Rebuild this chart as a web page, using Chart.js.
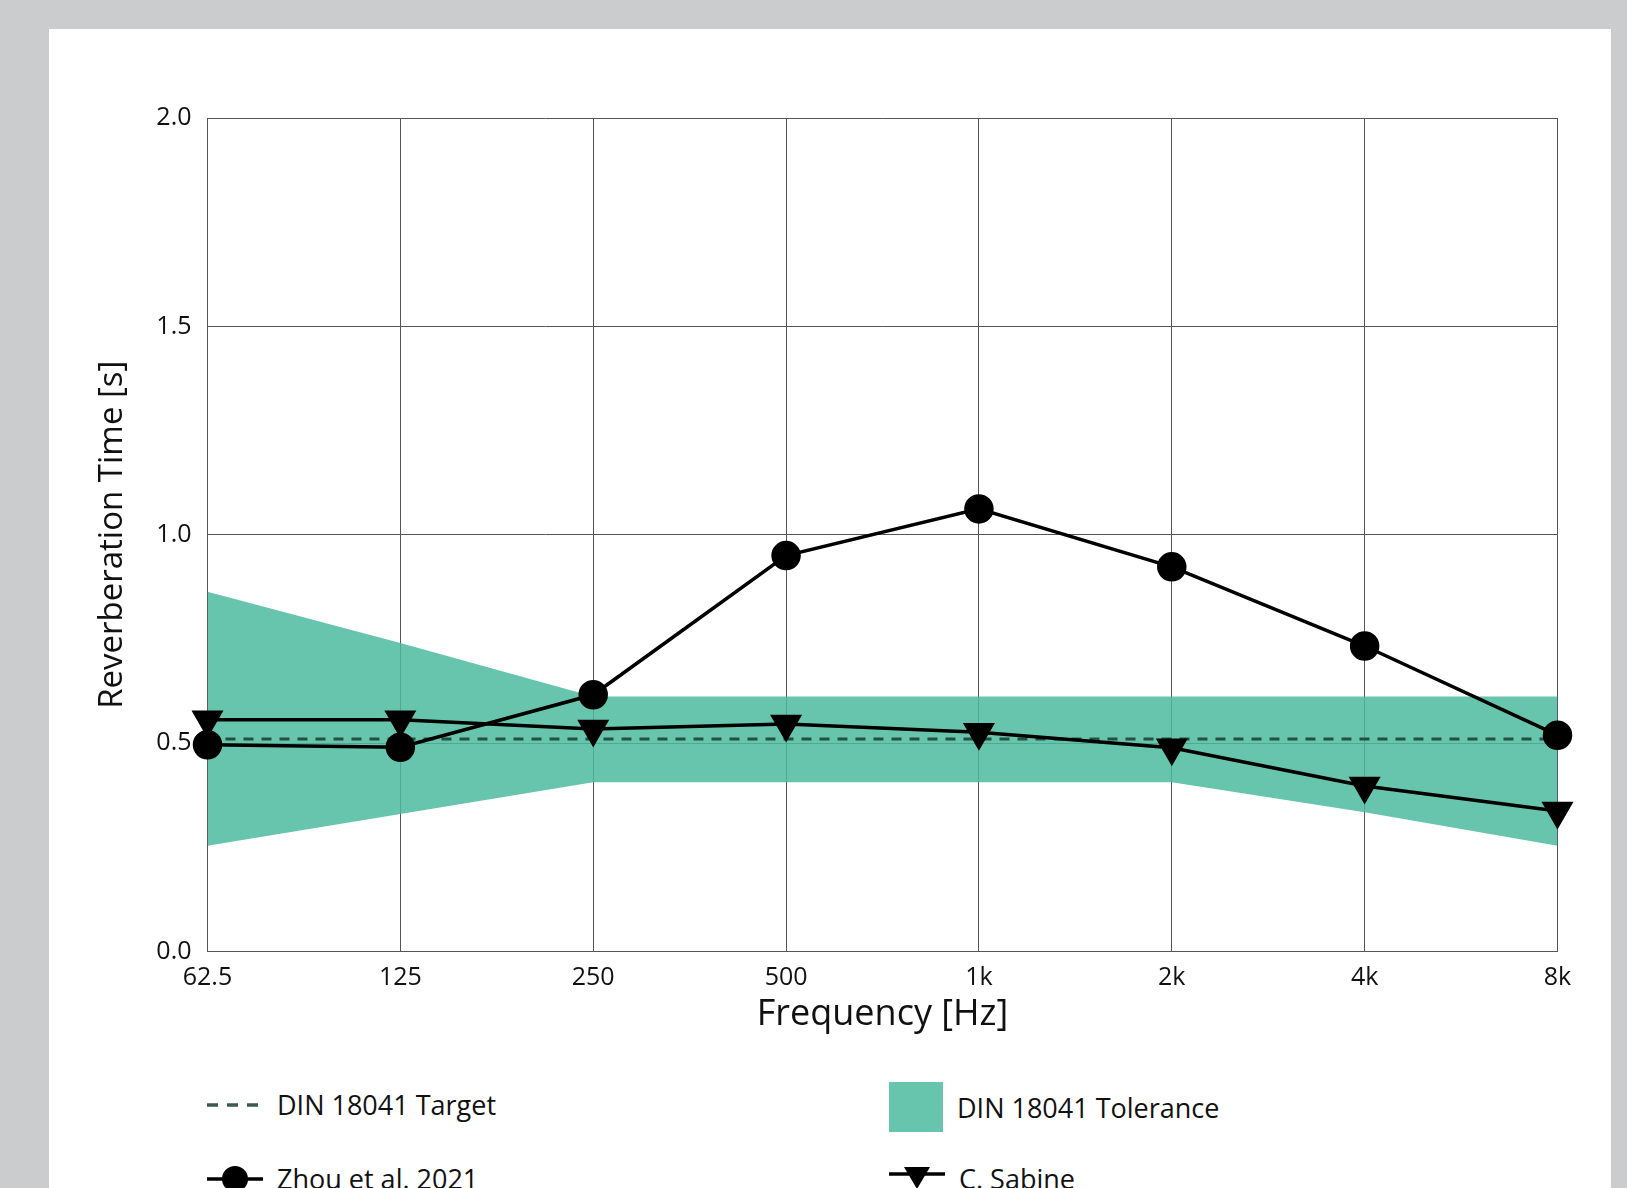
<!DOCTYPE html>
<html>
<head>
<meta charset="utf-8">
<script src="https://cdn.jsdelivr.net/npm/chart.js"></script>
<style>
  body { margin: 0; background: #cbcccd; width: 1627px; height: 1188px; overflow: hidden; position: relative; font-family: "Open Sans", sans-serif; }
  #panel { position: absolute; left: 49px; top: 29px; width: 1562px; height: 1200px; background: #fff; }
  #wrap { position: absolute; left: 0; top: 0; width: 1627px; height: 1060px; }
  .leg { position: absolute; font-size: 27px; color: #111; display: flex; align-items: center; white-space: nowrap; }
  .leg svg { margin-right: 14px; }
</style>
</head>
<body>
<div id="panel"></div>
<div id="wrap"><canvas id="chart"></canvas></div>

<div class="leg" style="left:207px; top:1086px;">
  <svg width="56" height="30"><line x1="0" y1="15" x2="56" y2="15" stroke="#3a5a4d" stroke-width="3.5" stroke-dasharray="11,9"/></svg>
  DIN 18041 Target
</div>
<div class="leg" style="left:889px; top:1082px;">
  <svg width="54" height="50"><rect x="0" y="0" width="54" height="50" fill="#66c5ac"/></svg>
  DIN 18041 Tolerance
</div>
<div class="leg" style="left:207px; top:1160px;">
  <svg width="56" height="30"><line x1="0" y1="15" x2="56" y2="15" stroke="#000" stroke-width="3.5"/><circle cx="28" cy="15" r="13" fill="#000"/></svg>
  Zhou et al. 2021
</div>
<div class="leg" style="left:889px; top:1160px;">
  <svg width="56" height="30"><line x1="0" y1="10" x2="56" y2="10" stroke="#000" stroke-width="3.5"/><polygon points="15,3 41,3 28,25" fill="#000"/></svg>
  C. Sabine
</div>

<script>
var freqs = ["62.5", "125", "250", "500", "1k", "2k", "4k", "8k"];
var zhou = [0.496, 0.49, 0.616, 0.95, 1.062, 0.923, 0.733, 0.519];
var sabine = [0.556, 0.556, 0.534, 0.546, 0.526, 0.489, 0.397, 0.337];
var target = [0.51, 0.51, 0.51, 0.51, 0.51, 0.51, 0.51, 0.51];
var tolUpper = [0.863, 0.74, 0.612, 0.612, 0.612, 0.612, 0.612, 0.612];
var tolLower = [0.254, 0.33, 0.406, 0.406, 0.406, 0.406, 0.334, 0.254];
var yTicks = [0, 0.5, 1.0, 1.5, 2.0];

var ctx = document.getElementById("chart");

new Chart(ctx, {
  type: 'line',
  data: {
    labels: freqs,
    datasets: [
      {
        label: 'Zhou et al. 2021',
        data: zhou,
        borderColor: '#000',
        backgroundColor: '#000',
        borderWidth: 3.5,
        pointStyle: 'circle',
        pointRadius: 13,
        tension: 0,
        fill: false,
        order: 0
      },
      {
        label: 'C. Sabine',
        data: sabine,
        borderColor: '#000',
        backgroundColor: '#000',
        borderWidth: 3.5,
        pointStyle: 'triangle',
        pointRotation: 180,
        pointRadius: 15,
        tension: 0,
        fill: false,
        order: 0
      },
      {
        label: 'DIN 18041 Target',
        data: target,
        borderColor: '#24503f',
        borderWidth: 3,
        borderDash: [10, 8],
        pointRadius: 0,
        fill: false,
        order: 1
      },
      {
        label: 'DIN 18041 Tolerance',
        data: tolUpper,
        borderWidth: 0,
        borderColor: 'rgba(0,0,0,0)',
        backgroundColor: 'rgba(75,187,157,0.85)',
        pointRadius: 0,
        fill: '+1',
        order: 2
      },
      {
        label: 'tol lower',
        data: tolLower,
        borderWidth: 0,
        borderColor: 'rgba(0,0,0,0)',
        pointRadius: 0,
        fill: false,
        order: 2
      }
    ]
  },
  options: {
    responsive: true,
    maintainAspectRatio: false,
    animation: false,
    layout: { padding: { left: 89, top: 118, right: 69.5, bottom: 20 } },
    plugins: {
      legend: { display: false },
      tooltip: { enabled: false }
    },
    scales: {
      x: {
        type: 'category',
        offset: false,
        grid: { color: '#555', lineWidth: 1, drawTicks: false },
        border: { color: '#555', width: 1 },
        ticks: {
          color: '#111',
          font: { family: 'Open Sans', size: 25 },
          padding: 11,
          maxRotation: 0,
          autoSkip: false
        },
        title: {
          display: true,
          text: 'Frequency [Hz]',
          color: '#111',
          font: { family: 'Open Sans', size: 36 },
          padding: { top: 6 }
        },
        afterFit: function(s) { s.height = 88.5; }
      },
      y: {
        min: 0,
        max: 2,
        afterBuildTicks: function(s) { s.ticks = yTicks.map(function(v) { return { value: v }; }); },
        grid: { color: '#555', lineWidth: 1, drawTicks: false },
        border: { color: '#555', width: 1 },
        ticks: {
          color: '#111',
          font: { family: 'Open Sans', size: 25 },
          padding: 16,
          callback: function(v) { return Number(v).toFixed(1); }
        },
        title: {
          display: true,
          text: 'Reverberation Time [s]',
          color: '#111',
          font: { family: 'Open Sans', size: 33 },
          padding: { bottom: 0 }
        },
        afterFit: function(s) { s.width = 118.5; }
      }
    }
  }
});
</script>
</body>
</html>
